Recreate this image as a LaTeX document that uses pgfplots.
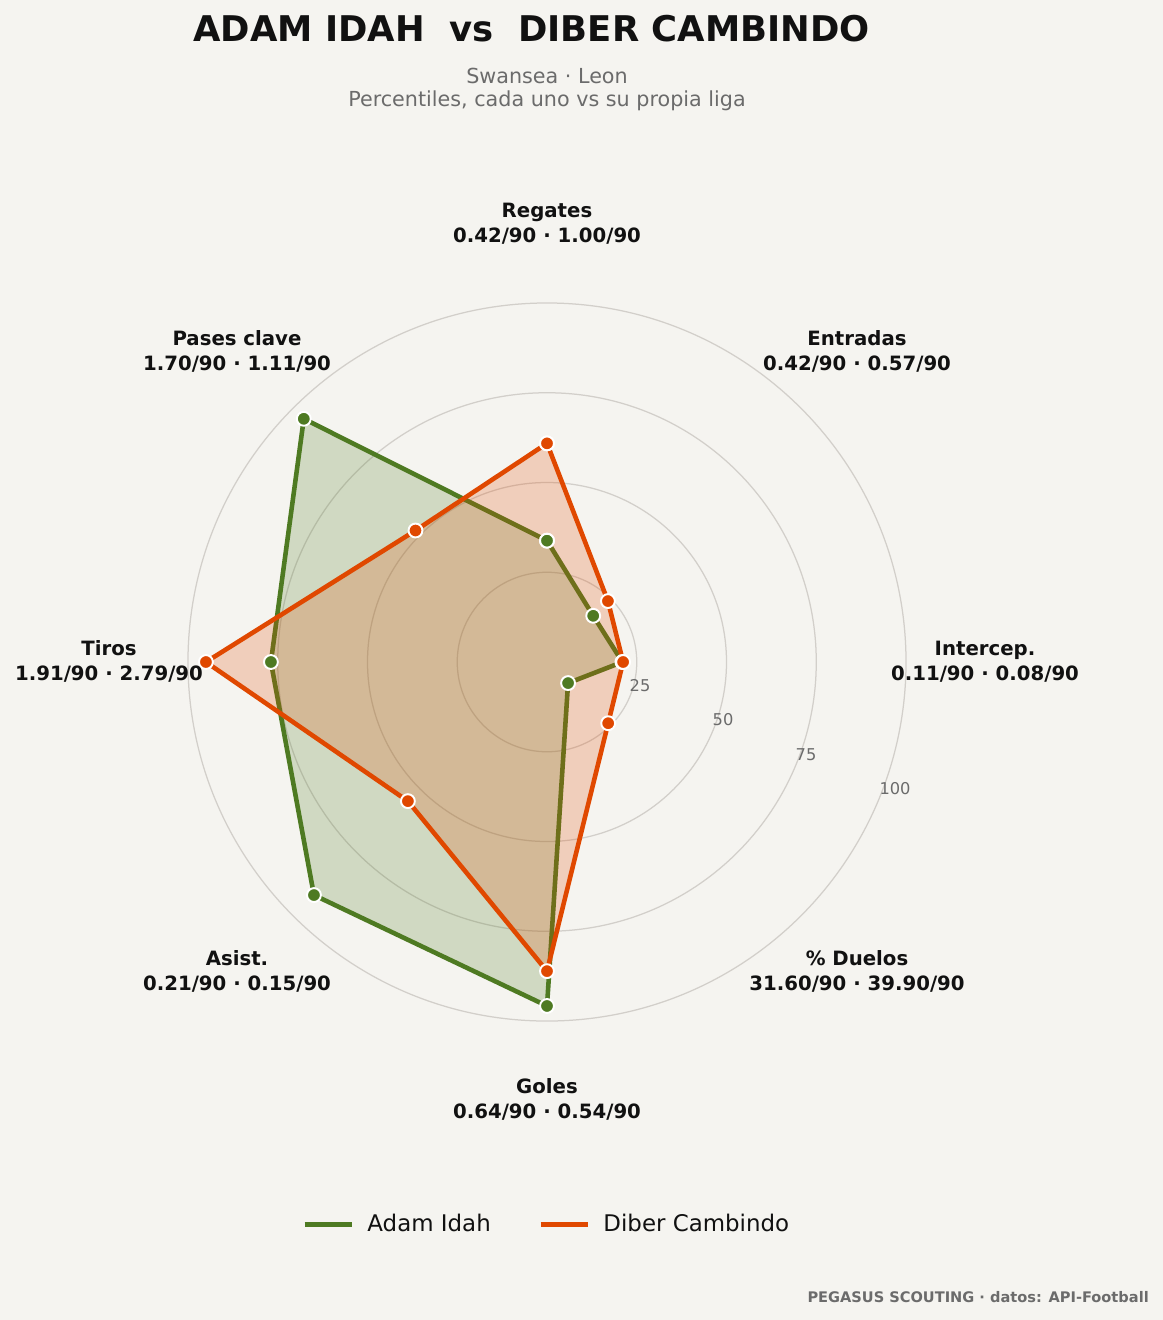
\documentclass[border=0pt]{standalone}
\usepackage{pgfplots}
\pgfplotsset{compat=1.18}
\usepgfplotslibrary{polar}
\usepackage{fontspec}
\setmainfont{DejaVu Sans}

\definecolor{bg}{HTML}{F5F4F0}
\definecolor{idah}{HTML}{4E7A22}
\definecolor{cambindo}{HTML}{E04800}
\definecolor{gridc}{HTML}{D2CFCA}
\definecolor{muted}{HTML}{6B6B6B}
\definecolor{ink}{HTML}{111111}

% spoke label: x, baseline y, name, values (pixel units)
\newcommand\spoke[4]{%
  \node[anchor=base, inner sep=0, text=ink, font=\fontsize{14.2}{17}\selectfont\bfseries] at (#1,#2) {#3};
  \node[anchor=base, inner sep=0, text=ink, font=\fontsize{14.2}{17}\selectfont\bfseries] at (#1,#2+25) {#4};}

\begin{document}
\begin{tikzpicture}[x=0.72pt,y=-0.72pt]
\fill[bg] (0,0) rectangle (1163,1320);

% titles
\node[anchor=base, inner sep=0, text=ink, font=\fontsize{25.5}{30}\selectfont\bfseries] at (531.5,42) {ADAM IDAH\ \ vs\ \ DIBER CAMBINDO};
\node[anchor=base, inner sep=0, text=muted, font=\fontsize{14.9}{18}\selectfont] at (547,84) {Swansea · Leon};
\node[anchor=base, inner sep=0, text=muted, font=\fontsize{14.9}{18}\selectfont] at (547,107) {Percentiles, cada uno vs su propia liga};

\begin{polaraxis}[
  at={(393.84pt,-476.64pt)}, anchor=center,
  scale only axis, width=517pt, height=517pt,
  xmin=0, xmax=360, ymin=0, ymax=100,
  xtick=\empty,
  ytick={25,50,75,100},
  yticklabels={},
  major tick length=0pt,
  ymajorgrids=true,
  grid style={draw=gridc, line width=0.9pt},
  separate axis lines,
  axis line style={draw=none},
  clip=false,
  legend columns=2,
  legend style={at={(0.5,-0.2827)}, anchor=center, draw=none, fill=none,
    font=\fontsize{16.5}{20}\selectfont, text=ink,
    /tikz/every odd column/.append style={column sep=7pt},
    /tikz/every even column/.append style={column sep=32pt}},
  legend cell align=left,
  legend image code/.code={\draw[#1, mark=none, line width=3.6pt] (0pt,0pt) -- (34.5pt,0pt);},
]
% Adam Idah
\addplot[draw=none, fill=idah, fill opacity=0.22, forget plot] coordinates {
  (90,33.8) (45,18.2) (0,21.0) (315,8.3) (270,95.8) (225,91.8) (180,76.9) (135,95.8) (90,33.8)};
\addplot[idah, line width=3.3pt, mark=*, mark size=5pt,
  mark options={fill=idah, draw=white, line width=1.4pt}] coordinates {
  (90,33.8) (45,18.2) (0,21.0) (315,8.3) (270,95.8) (225,91.8) (180,76.9) (135,95.8) (90,33.8)};
\addlegendentry{Adam Idah}
% Diber Cambindo
\addplot[draw=none, fill=cambindo, fill opacity=0.22, forget plot] coordinates {
  (90,60.9) (45,24.0) (0,21.2) (315,24.1) (270,86.1) (225,54.8) (180,95.0) (135,51.8) (90,60.9)};
\addplot[cambindo, line width=3.3pt, mark=*, mark size=5pt,
  mark options={fill=cambindo, draw=white, line width=1.4pt}] coordinates {
  (90,60.9) (45,24.0) (0,21.2) (315,24.1) (270,86.1) (225,54.8) (180,95.0) (135,51.8) (90,60.9)};
\addlegendentry{Diber Cambindo}
\end{polaraxis}

% radial tick labels
\begin{scope}[every node/.style={text=muted, font=\fontsize{11.7}{14}\selectfont, inner sep=0}]
\node at (640,686) {25};
\node at (723,720) {50};
\node at (806,755) {75};
\node at (895,789) {100};
\end{scope}

% spoke labels
\spoke{547}{217}{Regates}{0.42/90 · 1.00/90}
\spoke{857}{345}{Entradas}{0.42/90 · 0.57/90}
\spoke{985}{655}{Intercep.}{0.11/90 · 0.08/90}
\spoke{857}{965}{\% Duelos}{31.60/90 · 39.90/90}
\spoke{547}{1093}{Goles}{0.64/90 · 0.54/90}
\spoke{237}{965}{Asist.}{0.21/90 · 0.15/90}
\spoke{109}{655}{Tiros}{1.91/90 · 2.79/90}
\spoke{237}{345}{Pases clave}{1.70/90 · 1.11/90}

% footer
\node[anchor=base east, inner sep=0, text=muted, font=\fontsize{10.5}{12}\selectfont\bfseries] at (1149,1302) {PEGASUS SCOUTING · datos: API-Football};
\end{tikzpicture}
\end{document}
